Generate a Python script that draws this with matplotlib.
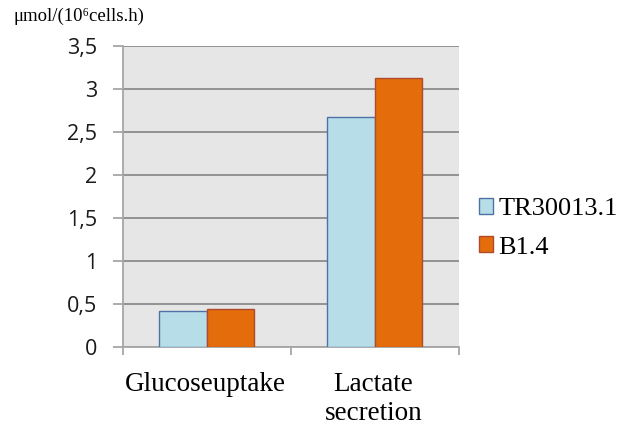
import numpy as np
import matplotlib.pyplot as plt
from matplotlib.patches import Patch

categories = ['Glucoseuptake', 'Lactate\nsecretion']
series_names = ['TR30013.1', 'B1.4']
tr30013 = [0.415, 2.67]
b14 = [0.44, 3.13]
yticks = [0, 0.5, 1, 1.5, 2, 2.5, 3, 3.5]
ytick_labels = ['0', '0,5', '1', '1,5', '2', '2,5', '3', '3,5']

colors = ['#B7DDE8', '#E46C0A']
edges = ['#4F72A6', '#B04A2A']
grid_col = '#8C8C8C'
axis_col = '#A6A6A6'
serif = ['Liberation Serif', 'DejaVu Serif']

fig = plt.figure(figsize=(6.26, 4.30), dpi=100)
ax = fig.add_axes([0.1965, 0.193, 0.5365, 0.7])
ax.set_facecolor('#E6E6E6')

x = np.arange(len(categories)) + 0.5
w = 0.283
ax.bar(x - w / 2, tr30013, w, color=colors[0], edgecolor=edges[0], linewidth=1.0, zorder=3)
ax.bar(x + w / 2, b14, w, color=colors[1], edgecolor=edges[1], linewidth=1.0, zorder=3)

ax.set_xlim(0, 2)
ax.set_ylim(0, 3.5)
ax.set_yticks(yticks)
ax.set_yticklabels(ytick_labels, fontsize=15.5, family='Open Sans', color='#1a1a1a')
ax.yaxis.grid(True, color=grid_col, linewidth=1.3, zorder=1)
ax.tick_params(axis='y', length=7, color=axis_col, width=1.3, pad=11.5)

# category ticks sit on the boundaries, labels in the middle
ax.set_xticks([0, 1, 2])
ax.set_xticklabels([])
ax.tick_params(axis='x', length=6, color=axis_col, width=1.3)
for xi, lab in zip(x, categories):
    ax.annotate(lab, xy=(xi, 0), xycoords='data', xytext=(-1, -18), textcoords='offset points',
                ha='center', va='top', fontsize=19.5, family=serif, linespacing=1.2,
                annotation_clip=False)

for s in ['top', 'right']:
    ax.spines[s].set_visible(False)
for s in ['left', 'bottom']:
    ax.spines[s].set_color(axis_col)
    ax.spines[s].set_linewidth(1.3)

fig.text(0.022, 0.952, 'μmol/(10⁶cells.h)', fontsize=13.5, family=serif,
         ha='left', va='baseline')

handles = [Patch(facecolor=colors[i], edgecolor=edges[i], label=series_names[i]) for i in range(2)]
fig.legend(handles=handles, loc='center left', bbox_to_anchor=(0.748, 0.469), frameon=False,
           prop={'family': serif, 'size': 19}, handlelength=0.55, handleheight=0.55,
           handletextpad=0.2, labelspacing=0.6, borderpad=0.4, borderaxespad=0)

fig.savefig('out.png', dpi=100)
